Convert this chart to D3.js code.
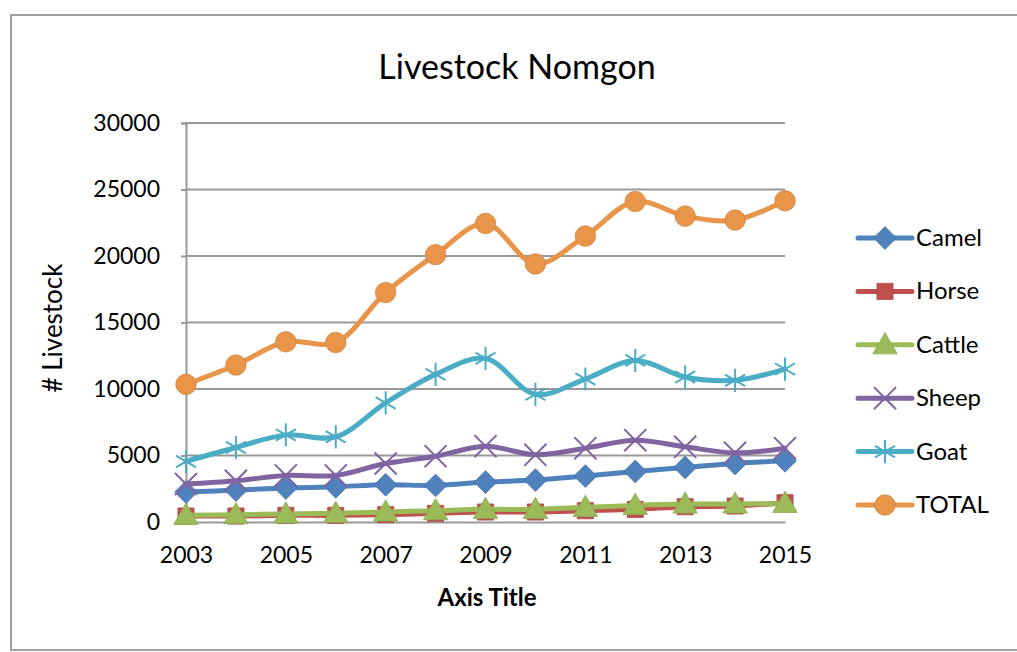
<!DOCTYPE html>
<html>
<head>
<meta charset="utf-8">
<script src="https://cdn.jsdelivr.net/npm/d3@7"></script>
<style>
  body { margin: 0; background: #fff; }
  text { font-family: Lato, "Open Sans", sans-serif; fill: #000; }
</style>
</head>
<body>
<div id="chart"></div>
<script>
// Chart data
const years  = [2003, 2004, 2005, 2006, 2007, 2008, 2009, 2010, 2011, 2012, 2013, 2014, 2015]
const camel  = [2250, 2400, 2550, 2650, 2800, 2750, 3000, 3150, 3450, 3800, 4100, 4400, 4600]
const horse  = [450, 450, 500, 500, 550, 650, 750, 750, 850, 950, 1150, 1200, 1450]
const cattle = [500, 550, 600, 650, 750, 850, 950, 950, 1100, 1250, 1350, 1350, 1400]
const sheep  = [2850, 3100, 3500, 3500, 4400, 4950, 5700, 5050, 5550, 6150, 5650, 5200, 5550]
const goat   = [4550, 5600, 6550, 6400, 8950, 11100, 12300, 9600, 10750, 12150, 10900, 10650, 11500]
const total  = [10350, 11800, 13550, 13500, 17250, 20100, 22450, 19400, 21500, 24100, 23000, 22700, 24150]
const yTicks = [0, 5000, 10000, 15000, 20000, 25000, 30000]
const xLabels = [2003, 2005, 2007, 2009, 2011, 2013, 2015]

const series = [
    {name: "Camel",  values: camel,  color: "#4F81BD", marker: "diamond"},
    {name: "Horse",  values: horse,  color: "#C0504D", marker: "square"},
    {name: "Cattle", values: cattle, color: "#9BBB59", marker: "triangle"},
    {name: "Sheep",  values: sheep,  color: "#8064A2", marker: "x"},
    {name: "Goat",   values: goat,   color: "#4BACC6", marker: "star"},
    {name: "TOTAL",  values: total,  color: "#E8954A", marker: "circle"}
]

const WIDTH = 1017
const HEIGHT = 652
const PLOT = {LEFT: 186, RIGHT: 785, TOP: 123, BOTTOM: 522}

let svg = d3.select("#chart").append("svg")
    .attr("width", WIDTH)
    .attr("height", HEIGHT)

// chart area border (right edge runs off the picture)
svg.append("rect")
    .attr("x", 11).attr("y", 15)
    .attr("width", WIDTH + 10).attr("height", 635)
    .attr("fill", "#fff")
    .attr("stroke", "#a0a0a0")
    .attr("stroke-width", 2)

let xScale = d3.scaleLinear()
    .domain(d3.extent(years))
    .range([PLOT.LEFT, PLOT.RIGHT])

let yScale = d3.scaleLinear()
    .domain([0, 30000])
    .range([PLOT.BOTTOM, PLOT.TOP])

// gridlines + y axis
let yAxis = svg.append("g")
    .attr("transform", "translate(" + PLOT.LEFT + ",0)")
    .call(d3.axisLeft(yScale).tickValues(yTicks).tickSize(5).tickPadding(21).tickFormat(d3.format("d")))
yAxis.select(".domain").attr("stroke", "#999").attr("stroke-width", 2)
yAxis.selectAll(".tick line").attr("stroke", "#999").attr("stroke-width", 2)
yAxis.selectAll(".tick text").style("font-size", "23px")

svg.append("g")
    .selectAll("line")
    .data(yTicks.filter(d => d > 0))
    .join("line")
        .attr("x1", PLOT.LEFT).attr("x2", PLOT.RIGHT)
        .attr("y1", d => yScale(d)).attr("y2", d => yScale(d))
        .attr("stroke", "#999").attr("stroke-width", 2)

// x axis
let xAxis = svg.append("g")
    .attr("transform", "translate(0," + PLOT.BOTTOM + ")")
    .call(d3.axisBottom(xScale).tickValues(xLabels).tickSize(0).tickPadding(25).tickFormat(d3.format("d")))
xAxis.select(".domain").attr("stroke", "#999").attr("stroke-width", 2)
xAxis.selectAll(".tick text").style("font-size", "23px")

// titles
svg.append("text")
    .attr("x", 517).attr("y", 79)
    .attr("text-anchor", "middle")
    .style("font-size", "34px")
    .text("Livestock Nomgon")

svg.append("text")
    .attr("transform", "translate(62,328) rotate(-90)")
    .attr("text-anchor", "middle")
    .style("font-size", "26px")
    .text("# Livestock")

svg.append("text")
    .attr("x", 487).attr("y", 606)
    .attr("text-anchor", "middle")
    .style("font-size", "24px")
    .style("font-weight", "bold")
    .text("Axis Title")

// marker shapes
const symbolFor = {
    diamond: d3.symbol().type(d3.symbolDiamond2).size(330),
    square: d3.symbol().type(d3.symbolSquare).size(260),
    triangle: d3.symbol().type(d3.symbolTriangle).size(260),
    x: d3.symbol().type(d3.symbolX).size(320),
    star: d3.symbol().type(d3.symbolAsterisk).size(380),
    circle: d3.symbol().type(d3.symbolCircle).size(330)
}

function drawMarker(g, s) {
    let p = g.append("path").attr("d", symbolFor[s.marker]())
    if (s.marker === "x" || s.marker === "star") {
        p.attr("fill", "none").attr("stroke", s.color).attr("stroke-width", 2)
    } else {
        p.attr("fill", s.color).attr("stroke", d3.color(s.color).darker(0.3)).attr("stroke-width", 0.8)
    }
    if (s.marker === "triangle") p.attr("transform", "translate(0,2)")
}

let line = d3.line()
    .x((d, i) => xScale(years[i]))
    .y(d => yScale(d))
    .curve(d3.curveCatmullRom.alpha(0.5))

series.forEach(s => {
    let g = svg.append("g")
    g.append("path")
        .attr("d", line(s.values))
        .attr("fill", "none")
        .attr("stroke", s.color)
        .attr("stroke-width", 5)
        .attr("stroke-linecap", "round")
    g.selectAll("g.m")
        .data(s.values)
        .join("g")
            .attr("class", "m")
            .attr("transform", (d, i) => "translate(" + xScale(years[i]) + "," + yScale(d) + ")")
            .each(function() { drawMarker(d3.select(this), s) })
})

// legend
let legend = svg.append("g")
series.forEach((s, i) => {
    let row = legend.append("g").attr("transform", "translate(885," + (238 + i * 53.4) + ")")
    row.append("line")
        .attr("x1", -27).attr("x2", 27)
        .attr("stroke", s.color).attr("stroke-width", 5).attr("stroke-linecap", "round")
    drawMarker(row, s)
    row.append("text")
        .attr("x", 31).attr("y", 8)
        .style("font-size", "24px")
        .text(s.name)
})
</script>
</body>
</html>
